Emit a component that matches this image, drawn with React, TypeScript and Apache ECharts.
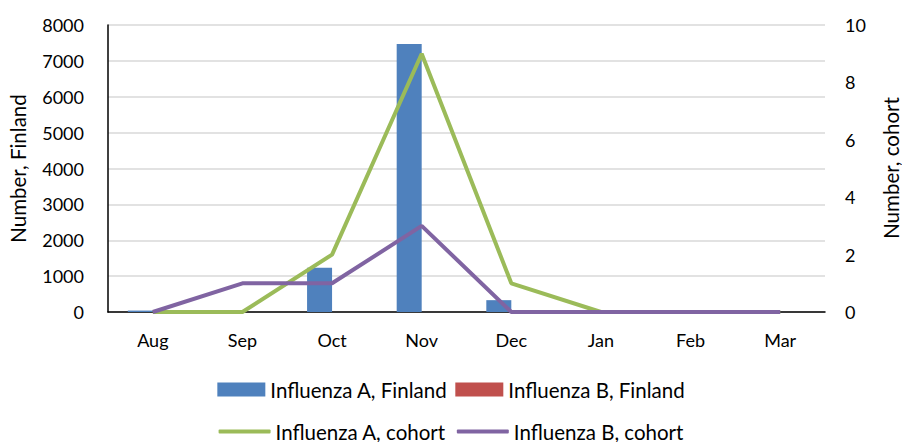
import React, { useEffect, useRef } from "react";
import * as echarts from "echarts";

const categories = ["Aug", "Sep", "Oct", "Nov", "Dec", "Jan", "Feb", "Mar"];
const fluAFinland = [40, 20, 1230, 7470, 330, 0, 0, 0];
const fluBFinland = [0, 0, 0, 0, 0, 0, 0, 0];
const fluACohort = [0, 0, 2, 9, 1, 0, 0, 0];
const fluBCohort = [0, 1, 1, 3, 0, 0, 0, 0];
const rightAxisTitle = "Number, cohort";

const FONT = "Lato";

export default function App() {
  const ref = useRef<HTMLDivElement>(null);
  useEffect(() => {
    document.body.style.margin = "0";
    const chart = echarts.init(ref.current!, null, { renderer: "svg" });
    const txt = { fontFamily: FONT, fontSize: 18, color: "#000" };
    const big = { fontFamily: FONT, fontSize: 20.5, color: "#000" };
    chart.setOption({
      animation: false,
      backgroundColor: "#fff",
      grid: { left: 108, right: 77, top: 25, bottom: 130, outerBoundsMode: "none", containLabel: false },
      graphic: [
        {
          type: "text",
          x: 891,
          y: 168,
          rotation: Math.PI / 2,
          style: {
            text: rightAxisTitle,
            align: "center",
            verticalAlign: "middle",
            fontFamily: FONT,
            fontSize: 20.5,
            fill: "#000",
          },
        },
      ],
      legend: [
        {
          data: ["Influenza A, Finland", "Influenza B, Finland"],
          top: 374,
          left: "center",
          icon: "rect",
          itemWidth: 48,
          itemHeight: 14,
          itemGap: 8,
          textStyle: big,
        },
        {
          data: ["Influenza A, cohort", "Influenza B, cohort"],
          top: 416,
          left: "center",
          icon: "roundRect",
          itemWidth: 52,
          itemHeight: 4,
          itemGap: 11,
          textStyle: big,
        },
      ],
      xAxis: {
        type: "category",
        data: categories,
        axisLine: { lineStyle: { color: "#000", width: 1.5 } },
        axisTick: { show: false },
        axisLabel: { ...txt, margin: 19 },
      },
      yAxis: [
        {
          type: "value",
          min: 0,
          max: 8000,
          interval: 1000,
          name: "Number, Finland",
          nameLocation: "middle",
          nameGap: 80,
          nameTextStyle: big,
          axisLine: { show: true, lineStyle: { color: "#000", width: 1.5 } },
          axisTick: { show: false },
          axisLabel: { ...txt, margin: 24, formatter: (v: number) => String(v) },
          splitLine: { lineStyle: { color: "#D9D9D9", width: 1.5 } },
        },
        {
          type: "value",
          min: 0,
          max: 10,
          interval: 2,
          axisLine: { show: false },
          axisTick: { show: false },
          axisLabel: { ...txt, margin: 20 },
          splitLine: { show: false },
        },
      ],
      series: [
        {
          name: "Influenza A, Finland",
          type: "bar",
          data: fluAFinland,
          barWidth: 25,
          barGap: "0%",
          itemStyle: { color: "#4F81BD" },
        },
        {
          name: "Influenza B, Finland",
          type: "bar",
          data: fluBFinland,
          barWidth: 25,
          barGap: "0%",
          itemStyle: { color: "#C0504D" },
        },
        {
          name: "Influenza A, cohort",
          type: "line",
          yAxisIndex: 1,
          data: fluACohort,
          symbol: "none",
          lineStyle: { color: "#9BBB59", width: 4 },
          itemStyle: { color: "#9BBB59" },
        },
        {
          name: "Influenza B, cohort",
          type: "line",
          yAxisIndex: 1,
          data: fluBCohort,
          symbol: "none",
          lineStyle: { color: "#8064A2", width: 4 },
          itemStyle: { color: "#8064A2" },
        },
      ],
    });
    return () => chart.dispose();
  }, []);
  return (
    <div
      ref={ref}
      style={{ position: "absolute", left: 0, top: 0, width: 902, height: 442 }}
    />
  );
}
